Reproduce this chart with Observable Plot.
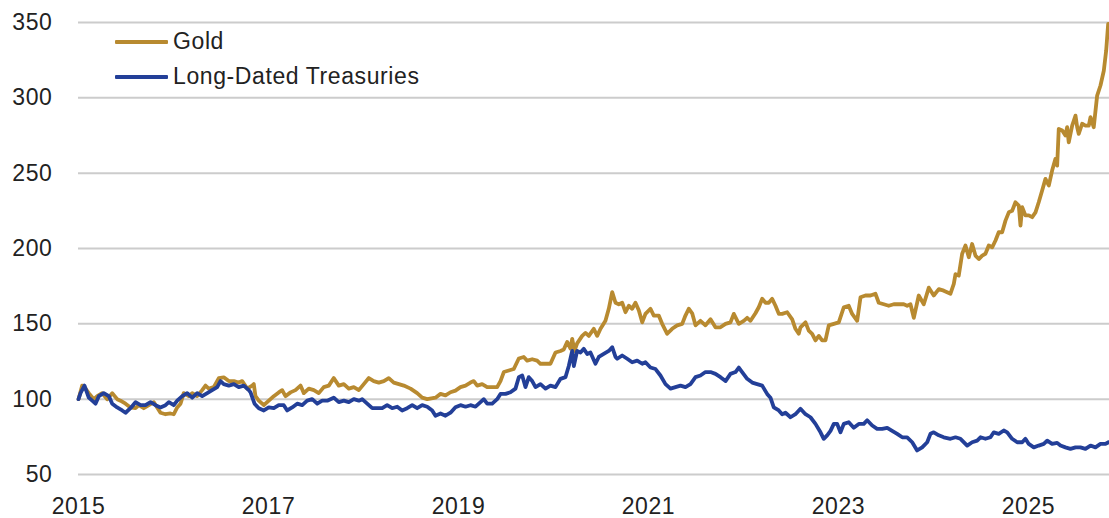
<!DOCTYPE html>
<html>
<head>
<meta charset="utf-8">
<script src="https://cdn.jsdelivr.net/npm/d3@7"></script>
<script src="https://cdn.jsdelivr.net/npm/@observablehq/plot@0.6"></script>
<style>
  html, body { margin: 0; padding: 0; background: #ffffff; }
  #wrap { position: relative; width: 1109px; height: 518px; }
  #legend { position: absolute; left: 115px; top: 24px; font-family: "Liberation Sans", Arial, sans-serif; font-size: 23px; letter-spacing: 0.6px; color: #222; }
  .row { display: flex; align-items: center; height: 35px; }
  .sw { width: 53px; height: 4px; margin-right: 5px; border-radius: 1px; }
</style>
</head>
<body>
<div id="wrap">
  <div id="chart"></div>
  <div id="legend"></div>
</div>
<script>
// Series: [decimal year, index value (Jan 2015 = 100)]
const gold = [[2015.000,100],[2015.039,109],[2015.074,107],[2015.108,104],[2015.161,100],[2015.197,102],[2015.249,104],[2015.302,100],[2015.355,104],[2015.407,100],[2015.442,99],[2015.495,97],[2015.547,94.5],[2015.600,94],[2015.635,96],[2015.687,94],[2015.740,96],[2015.793,98],[2015.828,94.5],[2015.863,91],[2015.916,90],[2015.968,90.5],[2016.003,90],[2016.039,94.5],[2016.074,97],[2016.108,104],[2016.161,102],[2016.197,104],[2016.249,102],[2016.302,106],[2016.337,109],[2016.372,107],[2016.424,108],[2016.477,114],[2016.529,114.5],[2016.582,112],[2016.635,112],[2016.687,111],[2016.723,112],[2016.776,107],[2016.828,109],[2016.845,110],[2016.863,102],[2016.898,99],[2016.951,96],[2017.003,99],[2017.056,102],[2017.108,104.5],[2017.144,106],[2017.179,102],[2017.232,104.5],[2017.284,106],[2017.337,109],[2017.372,104],[2017.424,107],[2017.477,106],[2017.529,104],[2017.582,108],[2017.635,109],[2017.687,114],[2017.740,109],[2017.793,110],[2017.845,107],[2017.898,108],[2017.951,106],[2018.003,110],[2018.056,114],[2018.108,112],[2018.161,111],[2018.214,112],[2018.266,114],[2018.319,111],[2018.372,110],[2018.424,109],[2018.495,107],[2018.565,104],[2018.618,101],[2018.671,100],[2018.758,101],[2018.811,103.5],[2018.863,102.5],[2018.916,104.6],[2018.968,105.7],[2019.021,108],[2019.074,109],[2019.126,111],[2019.161,112],[2019.197,109],[2019.249,110],[2019.302,108],[2019.355,108],[2019.407,108],[2019.442,112],[2019.477,118],[2019.529,119],[2019.582,120],[2019.635,127],[2019.687,128],[2019.723,125.6],[2019.776,126.5],[2019.828,125.6],[2019.863,123.5],[2019.916,123.5],[2019.968,123.5],[2020.021,131],[2020.074,132],[2020.108,133],[2020.144,138],[2020.179,133.6],[2020.197,140],[2020.221,132],[2020.249,137],[2020.302,142],[2020.337,144],[2020.372,142],[2020.424,146.7],[2020.460,142],[2020.495,146.7],[2020.547,152],[2020.582,160],[2020.618,171],[2020.653,164],[2020.687,163],[2020.723,164],[2020.758,157.7],[2020.793,162],[2020.828,160],[2020.863,164],[2020.898,159],[2020.934,151],[2020.968,156.6],[2021.021,160],[2021.056,155.5],[2021.108,155.5],[2021.144,150],[2021.197,143.4],[2021.249,146.7],[2021.302,149],[2021.355,150],[2021.389,155.5],[2021.424,160],[2021.460,157],[2021.495,149],[2021.547,152],[2021.600,149],[2021.653,153],[2021.705,147.7],[2021.758,147.7],[2021.811,150],[2021.863,151],[2021.898,156.6],[2021.951,150],[2022.003,152],[2022.039,154],[2022.074,152],[2022.126,157],[2022.161,161],[2022.197,166.6],[2022.232,164],[2022.266,164],[2022.302,166.6],[2022.337,162],[2022.372,156.6],[2022.407,156.6],[2022.460,157.7],[2022.513,153],[2022.547,146.7],[2022.582,143.4],[2022.600,147.7],[2022.653,151],[2022.687,145.5],[2022.723,143.4],[2022.758,139],[2022.793,142],[2022.828,139],[2022.863,139],[2022.898,149],[2022.951,150],[2023.003,151],[2023.056,161],[2023.108,162],[2023.144,156.6],[2023.197,152],[2023.232,167.6],[2023.284,168.8],[2023.337,168.8],[2023.389,170],[2023.424,164],[2023.477,163],[2023.529,162],[2023.582,163],[2023.635,163],[2023.687,163],[2023.723,162],[2023.758,163],[2023.793,154],[2023.845,168.8],[2023.898,163],[2023.951,174],[2024.003,168.8],[2024.056,173],[2024.108,172],[2024.179,170],[2024.214,176.5],[2024.232,183],[2024.266,182],[2024.302,196.5],[2024.337,202],[2024.372,194.2],[2024.407,203],[2024.442,195.3],[2024.477,193],[2024.513,195.3],[2024.547,196.5],[2024.582,202],[2024.618,200.8],[2024.653,205.3],[2024.687,210.8],[2024.723,210.8],[2024.758,218.5],[2024.793,224],[2024.828,225],[2024.863,230.7],[2024.898,228.5],[2024.916,215.2],[2024.934,227.4],[2024.968,222],[2025.003,222],[2025.039,220.8],[2025.074,224],[2025.108,230.7],[2025.144,238.5],[2025.179,246.2],[2025.214,241.8],[2025.249,251.7],[2025.284,259.5],[2025.302,255],[2025.319,279.4],[2025.355,278.3],[2025.389,275],[2025.407,280.5],[2025.424,270.5],[2025.460,281.6],[2025.495,288.2],[2025.513,280.5],[2025.529,276.1],[2025.565,282.8],[2025.600,281.6],[2025.635,281.6],[2025.653,287.2],[2025.687,280.5],[2025.723,301.5],[2025.758,308.2],[2025.793,318],[2025.818,331.4],[2025.839,349.1]];

const treasuries = [[2015.000,100],[2015.021,104],[2015.063,109],[2015.108,101],[2015.144,99],[2015.179,97],[2015.214,102],[2015.266,104],[2015.319,102],[2015.355,97],[2015.407,94.5],[2015.460,92.5],[2015.495,91],[2015.547,94],[2015.600,98],[2015.653,96],[2015.705,96],[2015.758,98],[2015.811,96],[2015.863,94.5],[2015.916,96],[2015.951,98],[2016.003,96],[2016.039,99],[2016.092,102],[2016.144,104],[2016.197,101],[2016.249,104],[2016.302,102],[2016.355,104],[2016.407,106],[2016.460,108],[2016.495,112],[2016.529,110],[2016.582,109],[2016.635,110],[2016.687,108],[2016.740,109],[2016.793,106],[2016.811,104.5],[2016.853,97],[2016.898,94],[2016.951,92.5],[2017.003,94.5],[2017.056,94],[2017.108,96],[2017.161,96],[2017.197,92.5],[2017.249,94.5],[2017.302,97],[2017.355,96],[2017.407,99],[2017.460,100],[2017.513,97],[2017.565,99],[2017.618,99],[2017.687,101],[2017.740,98],[2017.793,99],[2017.845,98],[2017.898,100],[2017.951,99],[2017.986,100],[2018.039,97],[2018.092,94],[2018.144,94],[2018.197,94],[2018.249,96],[2018.302,94],[2018.355,95],[2018.407,92.5],[2018.460,94],[2018.513,96],[2018.565,94],[2018.618,96],[2018.671,95],[2018.723,92.5],[2018.758,89],[2018.811,90.5],[2018.863,89],[2018.916,91],[2018.968,94.6],[2019.021,96],[2019.074,95],[2019.126,96],[2019.179,95],[2019.232,98],[2019.266,100],[2019.302,97],[2019.355,97],[2019.407,100],[2019.442,103.5],[2019.495,103.5],[2019.547,104.6],[2019.600,107],[2019.635,114.6],[2019.671,115.7],[2019.705,108],[2019.740,114.6],[2019.776,112],[2019.811,108],[2019.863,110],[2019.916,107],[2019.968,109],[2020.021,108],[2020.074,113.5],[2020.126,114.6],[2020.161,122],[2020.197,132],[2020.214,122],[2020.249,132],[2020.284,131],[2020.319,133.4],[2020.355,130],[2020.389,131],[2020.442,123.5],[2020.477,128],[2020.529,130],[2020.582,132],[2020.618,134.5],[2020.653,128],[2020.671,126.8],[2020.723,129],[2020.776,126.8],[2020.828,124.5],[2020.881,125.6],[2020.934,123.5],[2020.968,124.5],[2021.021,121],[2021.074,120],[2021.126,115.7],[2021.179,110],[2021.232,107],[2021.284,108],[2021.337,109],[2021.389,108],[2021.442,110],[2021.495,114.6],[2021.547,115.7],[2021.600,118],[2021.653,118],[2021.705,116.8],[2021.758,114.6],[2021.811,112],[2021.863,116.8],[2021.916,118],[2021.951,121],[2021.986,118],[2022.039,113.5],[2022.092,111],[2022.144,110],[2022.197,109],[2022.249,103.5],[2022.284,101],[2022.319,94.6],[2022.372,92.5],[2022.407,90],[2022.442,91],[2022.495,88],[2022.547,90],[2022.600,93.6],[2022.653,90],[2022.705,88],[2022.758,83.6],[2022.811,78],[2022.845,73.7],[2022.881,76],[2022.916,79],[2022.951,83.6],[2022.986,83.6],[2023.021,78],[2023.056,83.6],[2023.108,84.7],[2023.161,81],[2023.214,83.6],[2023.266,83.6],[2023.302,86],[2023.355,82.5],[2023.407,80.3],[2023.460,80.3],[2023.513,81],[2023.565,79],[2023.618,77],[2023.671,74.7],[2023.723,74.7],[2023.776,71.4],[2023.828,66],[2023.881,68],[2023.934,71.4],[2023.968,77],[2024.003,78],[2024.056,76],[2024.108,74.7],[2024.179,73.7],[2024.232,74.7],[2024.284,73.7],[2024.355,69.2],[2024.407,71.4],[2024.460,72.5],[2024.495,74.7],[2024.547,73.7],[2024.600,74.7],[2024.635,78],[2024.687,77],[2024.740,79.2],[2024.776,78],[2024.828,73.7],[2024.881,71.4],[2024.934,71.4],[2024.968,73.7],[2025.003,70.3],[2025.056,68],[2025.108,69.2],[2025.161,70.3],[2025.197,72.5],[2025.249,70.3],[2025.302,71],[2025.337,69.2],[2025.389,68],[2025.442,67],[2025.495,68],[2025.547,68],[2025.600,67],[2025.653,69.2],[2025.705,68],[2025.758,70.3],[2025.811,70.3],[2025.842,71.4]];

const seriesNames = ["Gold", "Long-Dated Treasuries"];
const seriesColors = ["#B88A30", "#233F98"];
const yTicks = [50, 100, 150, 200, 250, 300, 350];
const xTicks = [2015, 2017, 2019, 2021, 2023, 2025];
const xDomain = [2015, 2025.853];

const toRows = (arr, name) => arr.map(([t, v]) => ({t, v, name}));
const rows = [...toRows(gold, seriesNames[0]), ...toRows(treasuries, seriesNames[1])];

const chart = Plot.plot({
  width: 1109,
  height: 518,
  marginLeft: 78,
  marginRight: 0,
  marginTop: 22,
  marginBottom: 44,
  style: {fontFamily: "'Liberation Sans', Arial, sans-serif", fontSize: "23px", letterSpacing: "0.6px", color: "#222", background: "#ffffff"},
  x: {domain: xDomain, ticks: xTicks, tickFormat: d3.format("d"), tickSize: 0, tickPadding: 23, label: null},
  y: {domain: [50, 350], ticks: yTicks, tickSize: 0, tickPadding: 26, label: null},
  color: {domain: seriesNames, range: seriesColors},
  marks: [
    Plot.ruleY(yTicks, {stroke: "#cccccc", strokeWidth: 2}),
    Plot.axisY({ticks: yTicks, tickSize: 0, tickPadding: 26, label: null}),
    Plot.axisX({ticks: xTicks, tickFormat: d3.format("d"), tickSize: 0, tickPadding: 23, label: null}),
    Plot.line(rows, {x: "t", y: "v", z: "name", stroke: "name", strokeWidth: 3.8, strokeLinejoin: "round", strokeLinecap: "round"})
  ]
});
document.getElementById("chart").appendChild(chart);

const legend = document.getElementById("legend");
seriesNames.forEach((n, i) => {
  const row = document.createElement("div");
  row.className = "row";
  const sw = document.createElement("div");
  sw.className = "sw";
  sw.style.background = seriesColors[i];
  const lab = document.createElement("span");
  lab.textContent = n;
  row.appendChild(sw);
  row.appendChild(lab);
  legend.appendChild(row);
});
</script>
</body>
</html>
